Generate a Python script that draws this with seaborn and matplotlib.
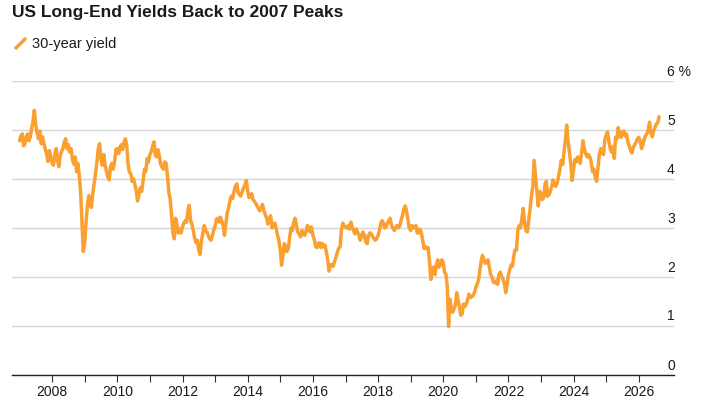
import numpy as np
import pandas as pd
import matplotlib
matplotlib.use("Agg")
import matplotlib.pyplot as plt
import matplotlib.dates as mdates
import matplotlib.path as mpath
from matplotlib.lines import Line2D
from matplotlib.ticker import FixedLocator
from matplotlib.transforms import ScaledTranslation
import seaborn as sns

# 30-year yield: two points per month (1st and 15th)
y2007 = [4.78, 4.88, 4.92, 4.68, 4.72, 4.85, 4.92, 4.78, 4.86, 5.02, 5.18, 5.40,
         5.10, 4.95, 4.82, 4.98, 4.72, 4.86, 4.72, 4.62, 4.50, 4.36, 4.58, 4.46]
y2008 = [4.33, 4.28, 4.50, 4.62, 4.40, 4.25, 4.48, 4.56, 4.62, 4.75, 4.82, 4.62,
         4.70, 4.55, 4.62, 4.40, 4.30, 4.45, 4.15, 4.32, 4.05, 3.72, 3.10, 2.52]
y2009 = [2.72, 3.12, 3.50, 3.66, 3.55, 3.42, 3.72, 3.90, 4.10, 4.32, 4.62, 4.72,
         4.40, 4.28, 4.50, 4.30, 4.15, 4.05, 3.98, 4.25, 4.32, 4.20, 4.36, 4.60]
y2010 = [4.62, 4.52, 4.66, 4.70, 4.60, 4.74, 4.82, 4.70, 4.30, 4.15, 4.10, 3.95,
         4.00, 3.90, 3.75, 3.55, 3.70, 3.82, 3.75, 3.95, 4.20, 4.15, 4.42, 4.35]
y2011 = [4.50, 4.56, 4.68, 4.76, 4.50, 4.45, 4.60, 4.48, 4.30, 4.25, 4.20, 4.35,
         4.32, 4.10, 3.72, 3.60, 3.25, 2.90, 2.78, 3.20, 3.05, 2.90, 2.98, 2.90]
y2012 = [3.02, 3.10, 3.15, 3.12, 3.35, 3.46, 3.15, 3.08, 2.95, 2.80, 2.70, 2.75,
         2.55, 2.46, 2.75, 2.88, 3.05, 2.95, 2.92, 2.85, 2.78, 2.75, 2.85, 2.95]
y2013 = [3.05, 3.18, 3.20, 3.12, 3.22, 3.15, 3.05, 2.85, 3.10, 3.30, 3.42, 3.55,
         3.65, 3.60, 3.75, 3.85, 3.90, 3.72, 3.68, 3.65, 3.75, 3.82, 3.88, 3.97]
y2014 = [3.75, 3.62, 3.65, 3.70, 3.58, 3.55, 3.50, 3.45, 3.40, 3.35, 3.42, 3.48,
         3.35, 3.28, 3.20, 3.08, 3.20, 3.25, 3.00, 3.05, 3.10, 3.00, 2.85, 2.75]
y2015 = [2.55, 2.24, 2.45, 2.68, 2.62, 2.52, 2.58, 2.80, 3.00, 2.95, 3.12, 3.20,
         3.05, 2.92, 2.88, 2.82, 2.95, 2.88, 2.85, 2.92, 3.05, 3.00, 2.92, 3.02]
y2016 = [2.85, 2.78, 2.62, 2.60, 2.68, 2.70, 2.60, 2.68, 2.62, 2.65, 2.50, 2.35,
         2.12, 2.25, 2.25, 2.22, 2.32, 2.40, 2.50, 2.58, 2.62, 2.95, 3.10, 3.05]
y2017 = [3.02, 3.00, 3.05, 2.98, 3.12, 3.02, 2.95, 2.88, 2.98, 2.92, 2.85, 2.75,
         2.85, 2.92, 2.85, 2.72, 2.68, 2.85, 2.90, 2.88, 2.82, 2.78, 2.75, 2.78]
y2018 = [2.85, 2.95, 3.10, 3.15, 3.10, 3.00, 3.02, 3.10, 3.15, 3.20, 3.05, 3.00,
         2.95, 3.00, 3.05, 3.00, 3.05, 3.15, 3.25, 3.38, 3.45, 3.35, 3.18, 3.00]
y2019 = [2.95, 3.05, 3.00, 3.02, 3.05, 2.90, 2.90, 2.98, 2.90, 2.75, 2.58, 2.62,
         2.58, 2.60, 2.30, 1.95, 2.15, 2.20, 2.05, 2.25, 2.35, 2.20, 2.25, 2.35]
y2020 = [2.30, 2.10, 2.05, 1.80, 0.99, 1.55, 1.35, 1.28, 1.35, 1.42, 1.68, 1.52,
         1.40, 1.22, 1.25, 1.45, 1.40, 1.45, 1.55, 1.65, 1.58, 1.60, 1.62, 1.68]
y2021 = [1.80, 1.85, 1.95, 2.15, 2.32, 2.44, 2.35, 2.28, 2.30, 2.35, 2.20, 2.05,
         2.00, 1.90, 1.88, 1.92, 1.85, 2.05, 2.10, 2.02, 1.95, 1.88, 1.68, 1.85]
y2022 = [2.05, 2.15, 2.25, 2.22, 2.42, 2.55, 2.55, 2.95, 3.05, 3.00, 3.20, 3.40,
         3.10, 2.95, 2.92, 3.15, 3.40, 3.65, 3.85, 4.38, 4.05, 3.80, 3.45, 3.75]
y2023 = [3.70, 3.58, 3.62, 3.90, 3.95, 3.65, 3.68, 3.75, 3.85, 3.98, 3.88, 3.85,
         3.92, 4.05, 4.20, 4.38, 4.30, 4.55, 4.80, 5.10, 4.75, 4.55, 4.30, 3.97]
y2024 = [4.20, 4.40, 4.35, 4.45, 4.38, 4.32, 4.55, 4.78, 4.60, 4.52, 4.45, 4.50,
         4.45, 4.35, 4.15, 4.20, 4.02, 3.95, 4.25, 4.50, 4.62, 4.55, 4.50, 4.80]
y2025 = [4.90, 4.96, 4.75, 4.62, 4.55, 4.65, 4.42, 4.85, 4.82, 5.05, 4.92, 4.85,
         4.95, 4.98, 4.88, 4.92, 4.75, 4.68, 4.58, 4.53, 4.65, 4.70, 4.75, 4.82]
y2026 = [4.85, 4.78, 4.62, 4.70, 4.80, 4.88, 4.92, 5.00, 5.16, 4.95, 4.86, 4.98,
         5.05, 5.12, 5.15, 5.27]

yields = (y2007 + y2008 + y2009 + y2010 + y2011 + y2012 + y2013 + y2014 + y2015
          + y2016 + y2017 + y2018 + y2019 + y2020 + y2021 + y2022 + y2023 + y2024
          + y2025 + y2026)
dates = pd.date_range("2007-01-01", periods=len(yields), freq="SMS")

y_ticks = [0, 1, 2, 3, 4, 5, 6]
y_tick_labels = ["0", "1", "2", "3", "4", "5", "6 %"]
label_years = list(range(2008, 2027, 2))
minor_years = list(range(2009, 2026, 2))

title = "US Long-End Yields Back to 2007 Peaks"
series_name = "30-year yield"

orange = "#f9a031"
grid_grey = "#d6d6d6"
text_col = "#1a1a1a"

df = pd.DataFrame({"date": dates, "yield": yields})

sns.set_style("white")
plt.rcParams["font.family"] = ["Liberation Sans", "DejaVu Sans"]

fig = plt.figure(figsize=(7.02, 4.01), dpi=100)
ax = fig.add_axes([12 / 702, 26 / 401, 662 / 702, 294 / 401])

sns.lineplot(data=df, x="date", y="yield", color=orange, linewidth=2.5,
             ax=ax, legend=False)

ax.set_xlim(pd.Timestamp("2006-10-08"), pd.Timestamp("2027-01-30"))
ax.set_ylim(0, 6)
ax.set_xlabel("")
ax.set_ylabel("")

# y axis: labels on the right, sitting above the gridlines
ax.set_yticks(y_ticks)
ax.set_yticklabels(y_tick_labels)
ax.yaxis.set_ticks_position("right")
ax.tick_params(axis="y", length=0, pad=-5, labelsize=10, labelcolor=text_col,
               labelright=True, labelleft=False)
for lab in ax.get_yticklabels():
    lab.set_horizontalalignment("left")
    lab.set_transform(lab.get_transform()
                      + ScaledTranslation(0, 0.11, fig.dpi_scale_trans))
ax.grid(axis="y", color=grid_grey, linewidth=1)
ax.grid(axis="x", visible=False)

# x axis: year labels every two years, minor ticks in between
ax.xaxis.set_major_locator(FixedLocator(
    mdates.date2num([pd.Timestamp(f"{y}-01-01") for y in label_years])))
ax.xaxis.set_minor_locator(FixedLocator(
    mdates.date2num([pd.Timestamp(f"{y}-01-01") for y in minor_years])))
ax.xaxis.set_major_formatter(mdates.DateFormatter("%Y"))
ax.tick_params(axis="x", which="major", length=5, width=0.8, color="#333333",
               labelsize=10, labelcolor=text_col, pad=2, bottom=True)
ax.tick_params(axis="x", which="minor", length=5, width=0.8, color="#333333",
               bottom=True)

for side in ["left", "right", "top"]:
    ax.spines[side].set_visible(False)
ax.spines["bottom"].set_color("#222222")
ax.spines["bottom"].set_linewidth(1)

fig.text(12 / 702, 1 - 13 / 401, title, fontsize=12.5, fontweight="bold",
         color=text_col, va="center", ha="left")

slash = mpath.Path([(-1, -1), (1, 1)], [mpath.Path.MOVETO, mpath.Path.LINETO])
handle = Line2D([], [], linestyle="none", marker=slash, markersize=8,
                markeredgewidth=2.4, color=orange, solid_capstyle="round")
fig.legend([handle], [series_name], loc="center left",
           bbox_to_anchor=(0 / 702, 1 - 44 / 401), frameon=False,
           fontsize=10.5, handlelength=1.0, handletextpad=0.3,
           labelcolor=text_col)

fig.savefig("out.png", dpi=100)
